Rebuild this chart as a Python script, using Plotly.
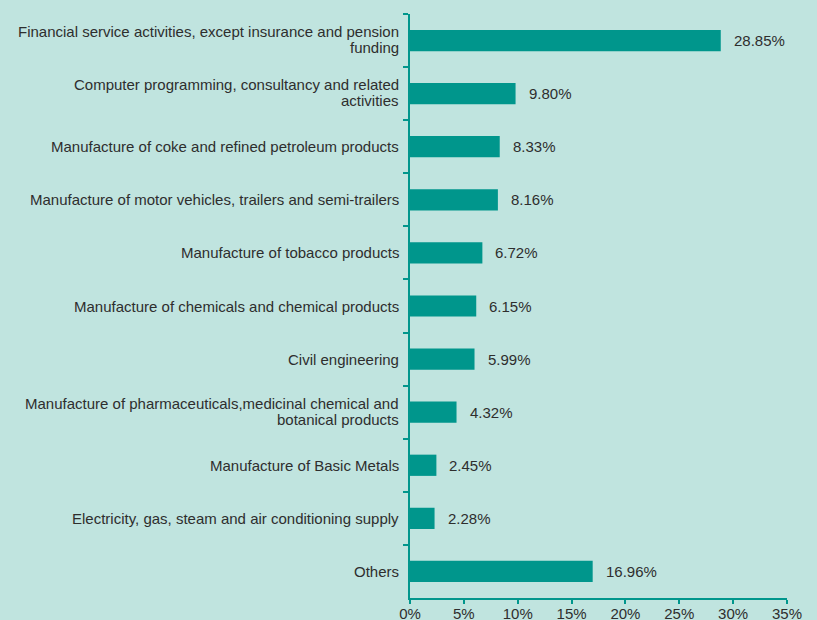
import plotly.graph_objects as go

categories = [
    "Financial service activities, except insurance and pension|funding",
    "Computer programming, consultancy and related|activities",
    "Manufacture of coke and refined petroleum products",
    "Manufacture of motor vehicles, trailers and semi-trailers",
    "Manufacture of tobacco products",
    "Manufacture of chemicals and chemical products",
    "Civil engineering",
    "Manufacture of pharmaceuticals,medicinal chemical and|botanical products",
    "Manufacture of Basic Metals",
    "Electricity, gas, steam and air conditioning supply",
    "Others",
]
shares = [28.85, 9.80, 8.33, 8.16, 6.72, 6.15, 5.99, 4.32, 2.45, 2.28, 16.96]
x_ticks = [0, 5, 10, 15, 20, 25, 30, 35]

TEAL = "#00968c"
BG = "#c0e4df"
INK = "#2e2e2e"
FONT = "Liberation Sans, Arial, sans-serif"
LINE_GAP = 16  # px between wrapped category label lines

fig = go.Figure(
    go.Bar(
        x=shares,
        y=categories,
        orientation="h",
        marker=dict(color=TEAL, line=dict(width=0)),
        hoverinfo="skip",
    )
)

# value labels to the right of each bar
for cat, val in zip(categories, shares):
    fig.add_annotation(
        x=val, y=cat, text=f"{val:.2f}%", showarrow=False,
        xanchor="left", yanchor="middle", xshift=11,
        font=dict(family=FONT, size=15, color=INK),
    )

# category labels, right-aligned against the axis, with tight line spacing
for cat in categories:
    lines = cat.split("|")
    n = len(lines)
    for i, line in enumerate(lines):
        offset = ((n - 1) / 2 - i) * LINE_GAP + (1 if n > 1 else 0)
        fig.add_annotation(
            x=0, y=cat, text=line, showarrow=False,
            xanchor="right", yanchor="middle", xshift=-9, yshift=offset,
            font=dict(family=FONT, size=15, color=INK),
        )

fig.update_layout(
    width=817, height=620,
    margin=dict(l=410, r=30, t=14, b=22),
    paper_bgcolor=BG, plot_bgcolor=BG,
    bargap=0.6,
    showlegend=False,
    font=dict(family=FONT, size=15, color=INK),
)

fig.update_xaxes(
    range=[0, 35], tickvals=x_ticks, ticktext=[f"{v}%" for v in x_ticks],
    showgrid=False, zeroline=False,
    showline=True, linecolor=TEAL, linewidth=2,
    ticks="outside", ticklen=4, tickwidth=2, tickcolor=TEAL,
    ticklabelstandoff=-3,
    tickfont=dict(family=FONT, size=15, color=INK),
    automargin=False, fixedrange=True,
)
fig.update_yaxes(
    categoryorder="array", categoryarray=categories, autorange="reversed",
    showgrid=False, zeroline=False, showticklabels=False,
    showline=True, linecolor=TEAL, linewidth=2,
    ticks="outside", ticklen=5, tickwidth=2, tickcolor=TEAL,
    tickson="boundaries",
    automargin=False, fixedrange=True,
)

fig.write_html("out.html", config={"displayModeBar": False})
